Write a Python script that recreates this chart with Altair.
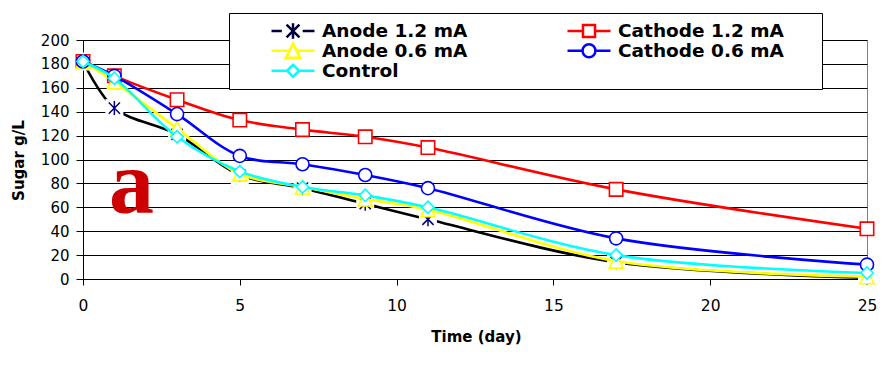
import altair as alt
import pandas as pd

days = [0, 1, 3, 5, 7, 9, 11, 17, 25]
anode_12 = [182, 143, 121, 87, 76, 63, 50, 14, 1]
cathode_12 = [182, 170, 150, 133, 125, 119, 110, 75, 42]
anode_06 = [182, 165, 126, 88, 77, 67, 58, 15, 2]
cathode_06 = [182, 170, 138, 103, 96, 87, 76, 34, 12]
control = [182, 168, 119, 90, 77, 70, 60, 20, 5]

series_names = ["Anode 1.2 mA", "Cathode 1.2 mA", "Anode 0.6 mA", "Cathode 0.6 mA", "Control"]
series_values = [anode_12, cathode_12, anode_06, cathode_06, control]
line_colors = ["#000000", "#ff0000", "#ffff00", "#0000ff", "#00ffff"]
marker_colors = ["#000080", "#ff0000", "#ffff00", "#0000ff", "#00ffff"]
x_ticks = [0, 5, 10, 15, 20, 25]
y_ticks = [0, 20, 40, 60, 80, 100, 120, 140, 160, 180, 200]

rows = []
for name, vals in zip(series_names, series_values):
    for d, v in zip(days, vals):
        rows.append({"series": name, "day": d, "sugar": v})
df = pd.DataFrame(rows)

STAR = "M-0.8,-0.8L0.8,0.8M0.8,-0.8L-0.8,0.8M0,-1V1"
TRI = "M0,-1L1,1L-1,1Z"
marker_shapes = [STAR, "square", TRI, "circle", "diamond"]
marker_sizes = [196, 180, 200, 170, 150]

L_STAR = "M-1,0H-0.52M0.45,0H1M-0.3,-0.3L0.3,0.3M0.3,-0.3L-0.3,0.3M0,-0.36V0.36"
L_SQ = "M-1,0H-0.28M0.28,0H1M-0.28,-0.28H0.28V0.28H-0.28Z"
L_TRI = "M-1,0H-0.17M0.17,0H1M0,-0.33L0.33,0.33L-0.33,0.33Z"
L_CIR = "M-1,0H-0.3M0.3,0H1M-0.3,0A0.3,0.3,0,1,1,0.3,0A0.3,0.3,0,1,1,-0.3,0Z"
L_DIA = "M-1,0H-0.28M0.28,0H1M0,-0.28L0.28,0L0,0.28L-0.28,0Z"
legend_paths = [L_STAR, L_SQ, L_TRI, L_CIR, L_DIA]
legend_colors = ["#000040", "#ff0000", "#ffff00", "#0000ff", "#00ffff"]

x_enc = alt.X(
    "day:Q",
    scale=alt.Scale(domain=[0, 25], nice=False, zero=False),
    axis=alt.Axis(
        values=x_ticks, grid=False, tickSize=6, labelPadding=13, labelAngle=0,
        title="Time (day)", titleX=393, titleY=62.5, titleAlign="center",
        titleBaseline="alphabetic", labelFlush=False, labelOverlap=False,
        labelFontSize=15.5,
    ),
)
y_enc = alt.Y(
    "sugar:Q",
    scale=alt.Scale(domain=[0, 200], nice=False),
    axis=alt.Axis(
        values=y_ticks, grid=True, gridColor="#000000", gridWidth=1, tickSize=7,
        labelPadding=7, title="Sugar g/L", titleAngle=-90, titleX=-60, titleY=120,
        titleAlign="center", titleBaseline="alphabetic", labelOverlap=False,
        tickCount=11,
    ),
)

layers = []
letter = alt.Chart(pd.DataFrame({"t": ["a"]})).mark_text(
    font="Liberation Serif", fontWeight="bold", fontSize=90, color="#cc0000",
    align="center", baseline="alphabetic",
).encode(x=alt.datum(1.55), y=alt.datum(55.5), text="t:N")
layers.append(letter)

for i, name in enumerate(series_names):
    base = alt.Chart(df).transform_filter(alt.datum.series == name)
    layers.append(
        base.mark_line(interpolate="catmull-rom", strokeWidth=2.6, color=line_colors[i]).encode(
            x=x_enc, y=y_enc
        )
    )
    if i == 0:
        layers.append(
            base.mark_point(shape="square", size=324, filled=True, fill="white", strokeWidth=0, opacity=1).encode(
                x=x_enc, y=y_enc
            )
        )
        layers.append(
            base.mark_point(shape=STAR, size=marker_sizes[i], filled=False, stroke=marker_colors[i],
                            strokeWidth=1.5, opacity=1).encode(x=x_enc, y=y_enc)
        )
    else:
        layers.append(
            base.mark_point(shape=marker_shapes[i], size=marker_sizes[i], filled=True, fill="white",
                            stroke=marker_colors[i], strokeWidth=1.6, opacity=1).encode(x=x_enc, y=y_enc)
        )

leg = alt.Legend(
    title=" ", titleOrient="right", titlePadding=30, titleFontSize=2,
    orient="none", legendX=146, legendY=-27, columns=2, direction="horizontal",
    symbolSize=1849, symbolStrokeWidth=2.5, symbolFillColor="white", symbolOpacity=1,
    labelFont="DejaVu Sans", labelFontWeight="bold", labelFontSize=18.5, labelColor="black",
    labelOffset=6, labelLimit=400, fillColor="white", strokeColor="black",
    padding=8, rowPadding=0, columnPadding=65, symbolOffset=33, clipHeight=19.5,
)
legend_layer = alt.Chart(df).mark_point(filled=True, fill="white", strokeWidth=2.5).encode(
    x=x_enc, y=y_enc,
    shape=alt.Shape("series:N", scale=alt.Scale(domain=series_names, range=legend_paths), legend=leg),
    stroke=alt.Stroke("series:N", scale=alt.Scale(domain=series_names, range=legend_colors), legend=leg),
).transform_filter("false")
layers.append(legend_layer)

chart = alt.layer(*layers).properties(
    width=784, height=239,
    padding={"left": 75, "top": 32, "right": 16, "bottom": 84},
    autosize=alt.AutoSizeParams(type="none"),
).configure_view(stroke="#808080", strokeWidth=1).configure_axis(
    labelFont="DejaVu Sans", labelFontSize=15, labelColor="black",
    titleFont="DejaVu Sans", titleFontWeight="bold", titleFontSize=15, titleColor="black",
    domainColor="black", tickColor="black",
)

chart.save("out.html", embed_options={"renderer": "svg", "actions": False})
